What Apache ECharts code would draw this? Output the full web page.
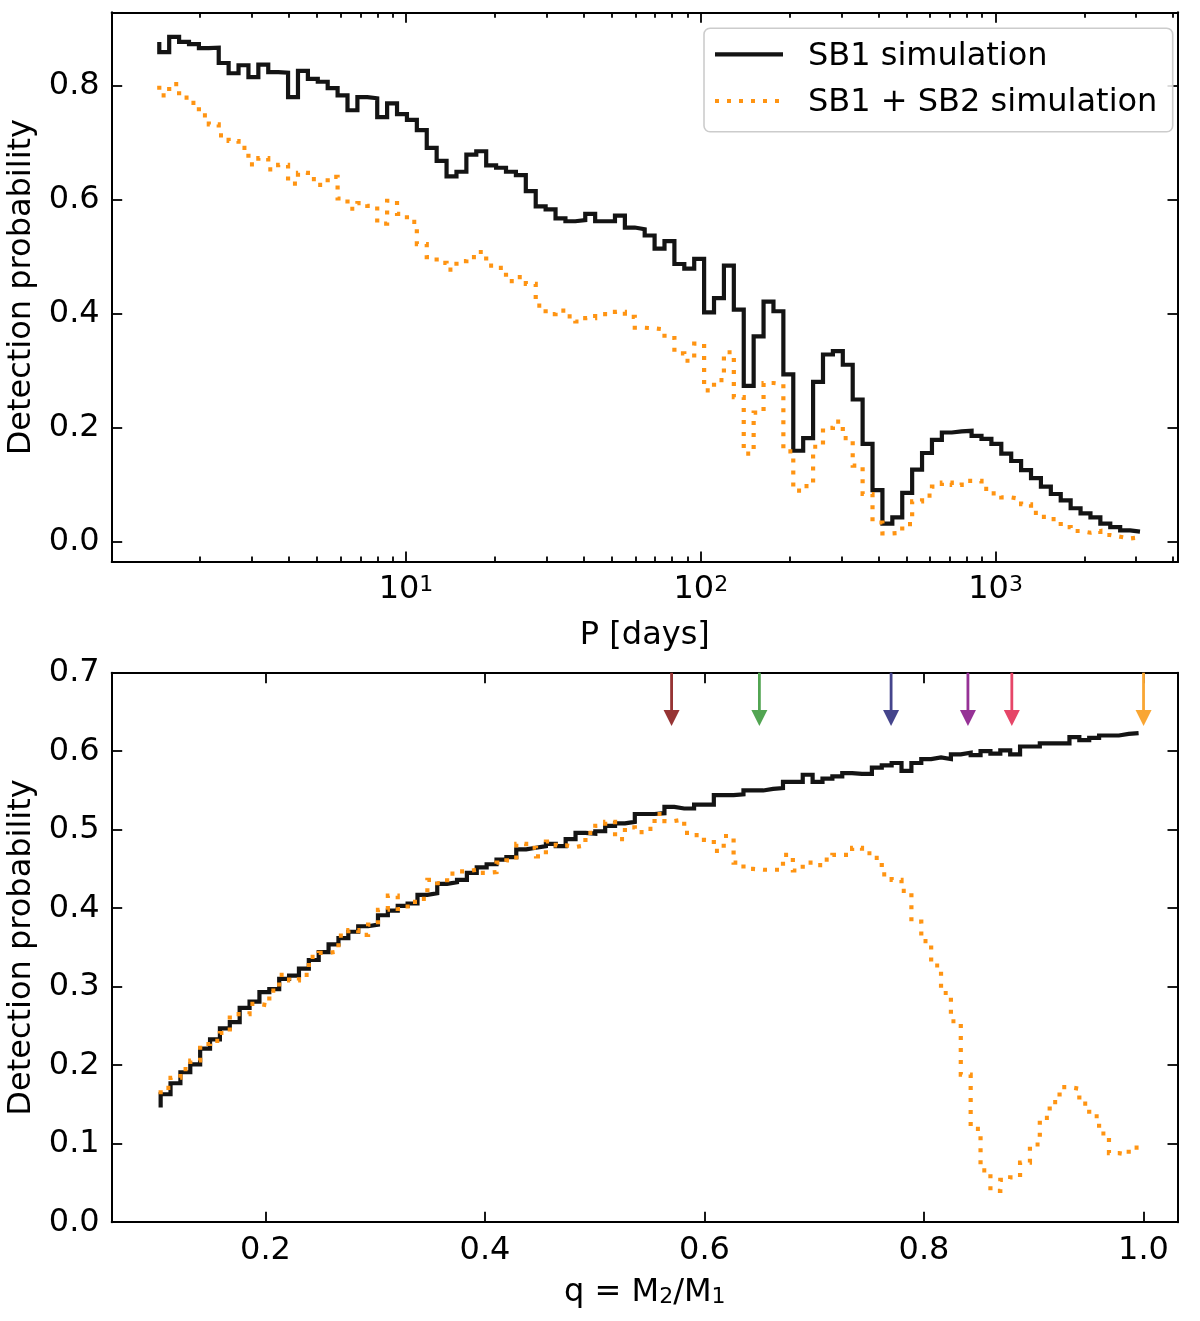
<!DOCTYPE html>
<html>
<head>
<meta charset="utf-8">
<script src="https://cdn.jsdelivr.net/npm/echarts@6/dist/echarts.min.js"></script>
<style>
html,body{margin:0;padding:0;background:#ffffff;}
#chart{width:1200px;height:1321px;}
</style>
</head>
<body>
<div id="chart"></div>
<script>
// ---------------- data ----------------
// Top panel: detection probability vs orbital period (log-spaced points, first and last P in days)
const periodRangeDays = [1.456, 3089];
const sb1PeriodProb = [0.877, 0.859, 0.886, 0.877, 0.873, 0.866, 0.867, 0.840, 0.822, 0.836,
  0.815, 0.837, 0.824, 0.823, 0.780, 0.826, 0.812, 0.807, 0.796, 0.783,
  0.757, 0.780, 0.778, 0.745, 0.769, 0.750, 0.740, 0.722, 0.691, 0.668,
  0.641, 0.649, 0.679, 0.685, 0.660, 0.656, 0.649, 0.643, 0.615, 0.588,
  0.583, 0.567, 0.562, 0.564, 0.575, 0.562, 0.562, 0.572, 0.551, 0.548,
  0.537, 0.514, 0.527, 0.487, 0.479, 0.496, 0.402, 0.427, 0.484, 0.407,
  0.273, 0.360, 0.421, 0.404, 0.293, 0.159, 0.181, 0.280, 0.328, 0.334,
  0.310, 0.249, 0.171, 0.090, 0.031, 0.042, 0.085, 0.126, 0.155, 0.178,
  0.191, 0.193, 0.194, 0.185, 0.180, 0.171, 0.154, 0.141, 0.125, 0.111,
  0.096, 0.083, 0.072, 0.058, 0.049, 0.042, 0.031, 0.025, 0.019, 0.017];
const sb12PeriodProb = [0.800, 0.783, 0.803, 0.779, 0.770, 0.748, 0.732, 0.713, 0.703, 0.691,
  0.662, 0.673, 0.653, 0.661, 0.628, 0.647, 0.636, 0.626, 0.640, 0.602,
  0.584, 0.594, 0.589, 0.558, 0.598, 0.575, 0.561, 0.522, 0.499, 0.489,
  0.477, 0.492, 0.499, 0.508, 0.484, 0.480, 0.457, 0.464, 0.452, 0.414,
  0.399, 0.405, 0.395, 0.386, 0.392, 0.399, 0.399, 0.403, 0.394, 0.375,
  0.374, 0.372, 0.357, 0.330, 0.317, 0.347, 0.265, 0.283, 0.332, 0.253,
  0.154, 0.226, 0.278, 0.276, 0.158, 0.089, 0.097, 0.166, 0.199, 0.210,
  0.181, 0.133, 0.083, 0.033, 0.014, 0.015, 0.030, 0.070, 0.080, 0.096,
  0.103, 0.099, 0.106, 0.106, 0.092, 0.084, 0.077, 0.074, 0.065, 0.050,
  0.043, 0.039, 0.025, 0.018, 0.015, 0.018, 0.011, 0.008, 0.005, 0.007];
const periodMajorTicksDays = [10, 100, 1000];
const periodAxisDays = [1.004, 4157];

// Bottom panel: detection probability vs mass ratio q (evenly spaced points, first and last q)
const massRatioRange = [0.1045, 0.9955];
const sb1MassProb = [0.146, 0.163, 0.177, 0.191, 0.201, 0.221, 0.233, 0.247, 0.255, 0.273,
  0.281, 0.293, 0.297, 0.310, 0.314, 0.323, 0.334, 0.344, 0.354, 0.362,
  0.370, 0.377, 0.379, 0.391, 0.397, 0.403, 0.406, 0.417, 0.419, 0.431,
  0.433, 0.436, 0.445, 0.452, 0.456, 0.462, 0.465, 0.475, 0.477, 0.479,
  0.482, 0.479, 0.488, 0.496, 0.495, 0.498, 0.505, 0.508, 0.510, 0.520,
  0.520, 0.521, 0.529, 0.527, 0.527, 0.532, 0.532, 0.544, 0.544, 0.545,
  0.550, 0.550, 0.552, 0.553, 0.561, 0.561, 0.570, 0.561, 0.565, 0.568,
  0.572, 0.571, 0.571, 0.579, 0.582, 0.585, 0.575, 0.585, 0.590, 0.592,
  0.590, 0.596, 0.598, 0.595, 0.600, 0.597, 0.601, 0.596, 0.606, 0.606,
  0.610, 0.610, 0.610, 0.618, 0.614, 0.617, 0.620, 0.620, 0.622, 0.623];
const sb12MassProb = [0.163, 0.171, 0.184, 0.195, 0.206, 0.227, 0.231, 0.241, 0.265, 0.265,
  0.278, 0.276, 0.295, 0.315, 0.308, 0.315, 0.338, 0.343, 0.345, 0.365,
  0.372, 0.366, 0.379, 0.398, 0.416, 0.399, 0.408, 0.412, 0.436, 0.432,
  0.444, 0.447, 0.449, 0.445, 0.446, 0.458, 0.461, 0.482, 0.477, 0.466,
  0.485, 0.480, 0.478, 0.480, 0.496, 0.505, 0.510, 0.488, 0.503, 0.497,
  0.501, 0.520, 0.511, 0.513, 0.496, 0.493, 0.487, 0.473, 0.492, 0.458,
  0.450, 0.449, 0.449, 0.449, 0.468, 0.448, 0.458, 0.455, 0.462, 0.468,
  0.468, 0.477, 0.470, 0.464, 0.443, 0.436, 0.422, 0.383, 0.358, 0.327,
  0.292, 0.256, 0.188, 0.119, 0.066, 0.040, 0.054, 0.057, 0.076, 0.099,
  0.133, 0.153, 0.172, 0.170, 0.151, 0.135, 0.113, 0.088, 0.086, 0.095];
const massRatioTicks = [0.2, 0.4, 0.6, 0.8, 1.0];
const massAxisRange = [0.0599, 1.0314];

const probTicksTop = [0.0, 0.2, 0.4, 0.6, 0.8];
const probAxisTop = [-0.0364, 0.929];
const probTicksBottom = [0.0, 0.1, 0.2, 0.3, 0.4, 0.5, 0.6, 0.7];
const probAxisBottom = [0.0, 0.7];

// Arrows marking individual systems (mass ratio)
const arrowMassRatios = [0.57, 0.65, 0.77, 0.84, 0.88, 1.0];
const arrowColors = ['#963434', '#52a552', '#45458c', '#963296', '#e64668', '#f9a633'];
const arrowTipProb = 0.632;

const seriesNames = ['SB1 simulation', 'SB1 + SB2 simulation'];

// ---------------- build ----------------
const FONT = 'DejaVu Sans';
const FS = 32;
const BLACK = '#141414';
const ORANGE = '#ff9412';
const LW = 4.2;

function logPoints(range, vals) {
  const a = Math.log10(range[0]), b = Math.log10(range[1]);
  const n = vals.length;
  return vals.map((v, i) => [a + (b - a) * i / (n - 1), v]);
}
function linPoints(range, vals) {
  const n = vals.length;
  return vals.map((v, i) => [range[0] + (range[1] - range[0]) * i / (n - 1), v]);
}

const logMin = Math.log10(periodAxisDays[0]);
const logMax = Math.log10(periodAxisDays[1]);
const majorLog = periodMajorTicksDays.map(p => Math.log10(p));
const minorLog = [];
for (let d = 0; d <= 3; d++) {
  for (let k = 2; k <= 9; k++) {
    const v = Math.log10(k * Math.pow(10, d));
    if (v > logMin && v < logMax) minorLog.push(v);
  }
}

const tickStyle = { color: '#000', width: 1.8 };
const lineAx = { show: true, onZero: false, lineStyle: { color: '#000', width: 2 } };
const noLabel = { show: false };
const labelFont = { fontFamily: FONT, fontSize: FS, color: '#000' };

function axisX(grid, pos, min, max, ticks, len, opts) {
  return Object.assign({
    type: 'value', gridIndex: grid, position: pos, min: min, max: max,
    axisLine: lineAx,
    axisTick: { show: true, inside: true, length: len, customValues: ticks, lineStyle: tickStyle },
    axisLabel: noLabel,
    splitLine: { show: false }
  }, opts || {});
}

const xAxes = [
  axisX(0, 'bottom', logMin, logMax, majorLog, 10.5, {
    name: 'P [days]', nameLocation: 'middle', nameGap: 58,
    nameTextStyle: labelFont,
    axisLabel: {
      show: true, customValues: majorLog, margin: 12,
      formatter: v => '{b|10}{s|' + Math.round(v) + '}',
      rich: {
        b: { fontFamily: FONT, fontSize: FS, lineHeight: FS, verticalAlign: 'top', color: '#000' },
        s: { fontFamily: FONT, fontSize: 22, lineHeight: 22, verticalAlign: 'top', color: '#000' }
      }
    }
  }),
  axisX(0, 'bottom', logMin, logMax, minorLog, 5.5, { axisLine: { show: false, onZero: false } }),
  axisX(0, 'top', logMin, logMax, majorLog, 10.5),
  axisX(0, 'top', logMin, logMax, minorLog, 5.5, { axisLine: { show: false, onZero: false } }),
  axisX(1, 'bottom', massAxisRange[0], massAxisRange[1], massRatioTicks, 10.5, {
    name: 'q = M{sub|2}/M{sub|1}', nameLocation: 'middle', nameGap: 54,
    nameTextStyle: Object.assign({}, labelFont, {
      rich: { sub: { fontFamily: FONT, fontSize: 22, lineHeight: 22, padding: [14, 0, 0, 0], verticalAlign: 'bottom', color: '#000' } }
    }),
    axisLabel: {
      show: true, customValues: massRatioTicks, margin: 12,
      formatter: v => v.toFixed(1), fontFamily: FONT, fontSize: FS, color: '#000'
    }
  }),
  axisX(1, 'top', massAxisRange[0], massAxisRange[1], massRatioTicks, 10.5)
];

function axisY(grid, pos, min, max, ticks, withLabel) {
  const ax = {
    type: 'value', gridIndex: grid, position: pos, min: min, max: max,
    axisLine: lineAx,
    axisTick: { show: true, inside: true, length: 10.5, customValues: ticks, lineStyle: tickStyle },
    axisLabel: noLabel,
    splitLine: { show: false }
  };
  if (withLabel) {
    ax.axisLabel = {
      show: true, customValues: ticks, margin: 12,
      formatter: v => v.toFixed(1), fontFamily: FONT, fontSize: FS, color: '#000'
    };
    ax.name = 'Detection probability';
    ax.nameLocation = 'middle';
    ax.nameGap = 74;
    ax.nameTextStyle = labelFont;
  }
  return ax;
}

const yAxes = [
  axisY(0, 'left', probAxisTop[0], probAxisTop[1], probTicksTop, true),
  axisY(0, 'right', probAxisTop[0], probAxisTop[1], probTicksTop, false),
  axisY(1, 'left', probAxisBottom[0], probAxisBottom[1], probTicksBottom, true),
  axisY(1, 'right', probAxisBottom[0], probAxisBottom[1], probTicksBottom, false)
];

function stepSeries(name, data, xi, yi, color, dashed) {
  return {
    type: 'line', name: name, xAxisIndex: xi, yAxisIndex: yi,
    data: data, step: 'start', showSymbol: false, symbol: 'none',
    lineStyle: { color: color, width: LW, type: dashed ? [4, 8] : 'solid', cap: 'butt', join: 'miter' },
    z: dashed ? 3 : 2, silent: true
  };
}

const arrowSeries = {
  type: 'custom', xAxisIndex: 4, yAxisIndex: 2, clip: false, z: 6, silent: true,
  data: arrowMassRatios.map((q, i) => ({ value: [q, arrowTipProb], itemStyle: { color: arrowColors[i] } })),
  renderItem: function (params, api) {
    const tip = api.coord([api.value(0), api.value(1)]);
    const top = api.coord([api.value(0), probAxisBottom[1]]);
    const c = api.visual('color');
    const headH = 16, headW = 16, shaftW = 2.8;
    return {
      type: 'group',
      children: [
        { type: 'rect', shape: { x: tip[0] - shaftW / 2, y: top[1], width: shaftW, height: tip[1] - headH - top[1] + 1 }, style: { fill: c } },
        { type: 'polygon', shape: { points: [[tip[0] - headW / 2, tip[1] - headH], [tip[0] + headW / 2, tip[1] - headH], [tip[0], tip[1]]] }, style: { fill: c } }
      ]
    };
  }
};

const option = {
  animation: false,
  backgroundColor: '#ffffff',
  grid: [
    { left: 111.7, top: 12.3, width: 1066.3, height: 549.7, outerBoundsMode: 'none', containLabel: false },
    { left: 111.7, top: 672.7, width: 1066.3, height: 549.5, outerBoundsMode: 'none', containLabel: false }
  ],
  xAxis: xAxes,
  yAxis: yAxes,
  series: [
    stepSeries(seriesNames[0], logPoints(periodRangeDays, sb1PeriodProb), 0, 0, BLACK, false),
    stepSeries(seriesNames[1], logPoints(periodRangeDays, sb12PeriodProb), 0, 0, ORANGE, true),
    stepSeries(seriesNames[0], linPoints(massRatioRange, sb1MassProb), 4, 2, BLACK, false),
    stepSeries(seriesNames[1], linPoints(massRatioRange, sb12MassProb), 4, 2, ORANGE, true),
    arrowSeries
  ],
  graphic: [
    { type: 'rect', z: 100, shape: { x: 704, y: 28.3, width: 468.7, height: 103.4, r: 6 },
      style: { fill: 'rgba(255,255,255,0.85)', stroke: '#cccccc', lineWidth: 1.6 } },
    { type: 'line', z: 101, shape: { x1: 715, y1: 54.3, x2: 783, y2: 54.3 },
      style: { stroke: BLACK, lineWidth: LW } },
    { type: 'line', z: 101, shape: { x1: 715, y1: 101, x2: 783, y2: 101 },
      style: { stroke: ORANGE, lineWidth: LW, lineDash: [4, 8], lineCap: 'butt' } },
    { type: 'text', z: 101, x: 808, y: 56.5,
      style: { text: seriesNames[0], font: '32px "DejaVu Sans"', fill: '#000', verticalAlign: 'middle', align: 'left' } },
    { type: 'text', z: 101, x: 808, y: 102.5,
      style: { text: seriesNames[1], font: '32px "DejaVu Sans"', fill: '#000', verticalAlign: 'middle', align: 'left' } }
  ]
};

const chart = echarts.init(document.getElementById('chart'), null, { renderer: 'canvas' });
chart.setOption(option);
</script>
</body>
</html>
